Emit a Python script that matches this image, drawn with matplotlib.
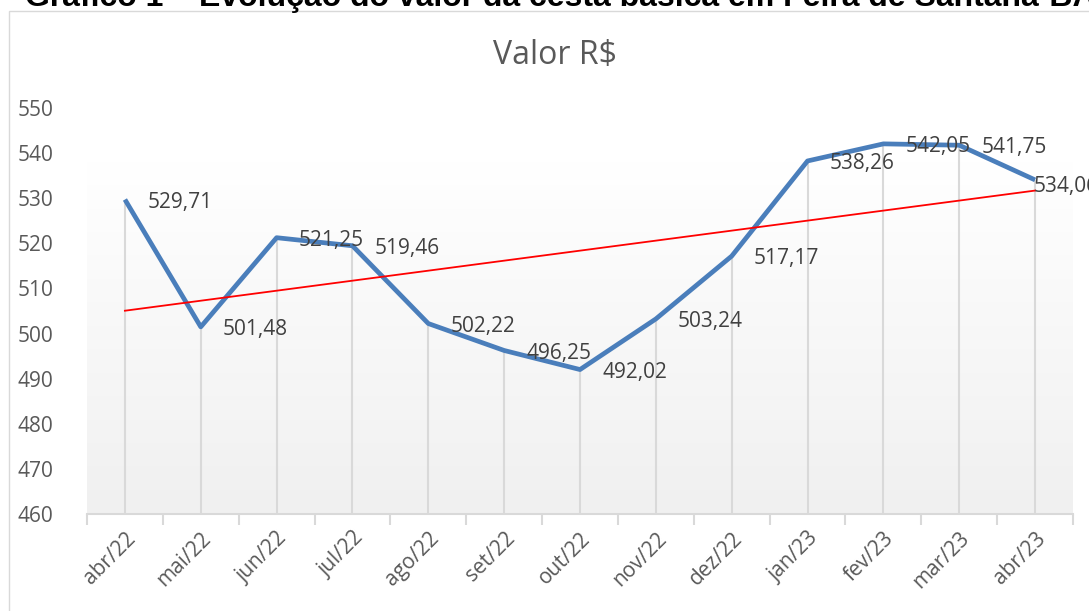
import numpy as np
import matplotlib
matplotlib.use("Agg")
import matplotlib.pyplot as plt
from matplotlib.patches import Rectangle
from matplotlib.ticker import FixedLocator
from matplotlib.colors import LinearSegmentedColormap

categories = ["abr/22", "mai/22", "jun/22", "jul/22", "ago/22", "set/22", "out/22",
              "nov/22", "dez/22", "jan/23", "fev/23", "mar/23", "abr/23"]
values = [529.71, 501.48, 521.25, 519.46, 502.22, 496.25, 492.02,
          503.24, 517.17, 538.26, 542.05, 541.75, 534.06]
label_texts = ["529,71", "501,48", "521,25", "519,46", "502,22", "496,25", "492,02",
               "503,24", "517,17", "538,26", "542,05", "541,75", "534,06"]
y_ticks = [460, 470, 480, 490, 500, 510, 520, 530, 540, 550]

chart_title = "Valor R$"
doc_title = "Gráfico 1 – Evolução do valor da cesta básica em Feira de Santana-BA"

W, H = 1089, 611
fig = plt.figure(figsize=(W / 100, H / 100), dpi=100)
fig.patch.set_facecolor("white")

# chart border (extends beyond right/bottom)
fig.patches.append(Rectangle((8.5 / W, -0.2), 1.2, 1 - 10.5 / H + 0.2,
                             transform=fig.transFigure, fill=False,
                             edgecolor="#d9d9d9", linewidth=1.0))

fig.text(25 / W, 1 - 6 / H, doc_title, ha="left", va="baseline",
         fontsize=23, fontweight="bold", family="Liberation Sans", color="black")

ax = fig.add_axes([87 / W, 1 - 514 / H, (1073 - 87) / W, (514 - 108) / H])
ax.set_facecolor("none")
x = np.arange(len(categories))
ax.set_xlim(-0.5, len(categories) - 0.5)
ax.set_ylim(460, 550)

# gradient background
grad = np.linspace(0, 1, 256).reshape(-1, 1)
cmap = LinearSegmentedColormap.from_list("g", ["#f0f0f0", "#ffffff"])
ax.imshow(grad, cmap=cmap, aspect="auto", origin="lower",
          extent=[0, 1, 0, 0.867], transform=ax.transAxes, zorder=0)

# drop lines
ax.vlines(x, 460, values, color="#d9d9d9", linewidth=1.5, zorder=1)

# trend line
coef = np.polyfit(x, values, 1)
ax.plot(x, np.polyval(coef, x), color="#ff0000", linewidth=1.3, zorder=3)

ax.plot(x, values, color="#4a7ebb", linewidth=3.4, solid_joinstyle="round",
        solid_capstyle="butt", zorder=2)

n = len(values)
for i, (xi, v, t) in enumerate(zip(x, values, label_texts)):
    off = (16, -2) if i < n - 1 else (-1, -5)
    ax.annotate(t, (xi, v), xytext=off, textcoords="offset points",
                ha="left", va="center", fontsize=15, family="Open Sans",
                color="#404040", zorder=4, annotation_clip=False)

for s in ["top", "right", "left"]:
    ax.spines[s].set_visible(False)
ax.spines["bottom"].set_color("#d9d9d9")
ax.spines["bottom"].set_linewidth(1.5)

ax.set_yticks(y_ticks)
ax.set_yticklabels([str(v) for v in y_ticks])
ax.tick_params(axis="y", length=0, pad=24, labelsize=15, labelcolor="#595959")
for lab in ax.get_yticklabels():
    lab.set_family("Open Sans")

ax.set_xticks(x)
ax.set_xticklabels(categories, rotation=45, ha="right", rotation_mode="anchor")
ax.tick_params(axis="x", which="major", length=0, pad=10, labelsize=15,
               labelcolor="#595959")
for lab in ax.get_xticklabels():
    lab.set_family("Open Sans")
ax.xaxis.set_minor_locator(FixedLocator(np.arange(-0.5, len(categories), 1.0)))
ax.tick_params(axis="x", which="minor", length=8, width=1.5, color="#d9d9d9",
               direction="out")

fig.text(555 / W, 1 - 55 / H, chart_title, ha="center", va="center",
         fontsize=23, family="Open Sans", color="#595959")

fig.savefig("out.png", dpi=100)
